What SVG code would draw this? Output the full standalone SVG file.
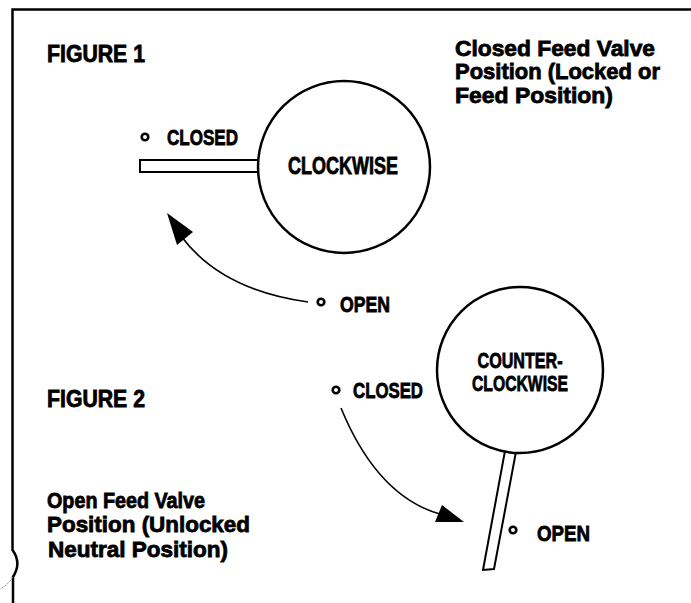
<svg xmlns="http://www.w3.org/2000/svg" width="691" height="603" viewBox="0 0 691 603">
<style>
text{font-family:"Liberation Sans",Arial,sans-serif;font-weight:bold;fill:#000;stroke:#000;stroke-width:0.8}
.t{font-size:23px}
.m{font-size:22px}
.s{font-size:22.5px}
.ring{fill:#fff;stroke:#000;stroke-width:2.5}
.bar{fill:#fff;stroke:#000;stroke-width:2}
.dot{fill:#fff;stroke:#000;stroke-width:2.6}
.curve{fill:none;stroke:#000;stroke-width:1.6}
.frame{fill:none;stroke:#000;stroke-width:2.5}
</style>
<rect width="691" height="603" fill="#fff"/>
<g id="frame">
<path class="frame" d="M691 9.5 H12.5 V550 Q22 563 13 577 V603"/>
<path d="M13 577 Q8 585 0 589" fill="none" stroke="#777" stroke-width="1" stroke-dasharray="2 1.5"/>
</g>
<g id="titles">
<text class="t" x="47" y="62" textLength="98" lengthAdjust="spacingAndGlyphs">FIGURE 1</text>
<text class="m" x="455" y="56" textLength="200" lengthAdjust="spacingAndGlyphs">Closed Feed Valve</text>
<text class="m" x="455" y="79" textLength="205" lengthAdjust="spacingAndGlyphs">Position (Locked or</text>
<text class="m" x="455" y="103" textLength="158" lengthAdjust="spacingAndGlyphs">Feed Position)</text>
<text class="t" x="47" y="407" textLength="98" lengthAdjust="spacingAndGlyphs">FIGURE 2</text>
<text class="m" x="47" y="508" textLength="158" lengthAdjust="spacingAndGlyphs">Open Feed Valve</text>
<text class="m" x="47" y="532" textLength="203" lengthAdjust="spacingAndGlyphs">Position (Unlocked</text>
<text class="m" x="48" y="557" textLength="180" lengthAdjust="spacingAndGlyphs">Neutral Position)</text>
</g>
<g id="valve1">
<rect class="bar" x="140" y="160" width="125" height="12"/>
<circle class="ring" cx="344" cy="167" r="86"/>
<text class="t" x="288" y="174" textLength="110" lengthAdjust="spacingAndGlyphs">CLOCKWISE</text>
</g>
<g id="closed1">
<circle class="dot" cx="145" cy="137" r="3.3"/>
<text class="s" x="167" y="145" textLength="71" lengthAdjust="spacingAndGlyphs">CLOSED</text>
</g>
<g id="open1">
<circle class="dot" cx="321" cy="302" r="3.3"/>
<text class="s" x="340" y="312" textLength="50" lengthAdjust="spacingAndGlyphs">OPEN</text>
</g>
<g id="valve2">
<polygon class="bar" points="507,440 518,441 494,569 483,570"/>
<circle class="ring" cx="520" cy="370" r="83"/>
<text class="m" x="520" y="368" text-anchor="middle" textLength="85" lengthAdjust="spacingAndGlyphs">COUNTER-</text>
<text class="m" x="520" y="391" text-anchor="middle" textLength="96" lengthAdjust="spacingAndGlyphs">CLOCKWISE</text>
</g>
<g id="closed2">
<circle class="dot" cx="336" cy="390" r="3.3"/>
<text class="s" x="353" y="398" textLength="70" lengthAdjust="spacingAndGlyphs">CLOSED</text>
</g>
<g id="open2">
<circle class="dot" cx="513" cy="530" r="3.3"/>
<text class="s" x="537" y="541" textLength="53" lengthAdjust="spacingAndGlyphs">OPEN</text>
</g>
<g id="connectors">
<path class="curve" d="M308 302 Q221 290 181 236"/>
<polygon points="167,213 193,232 177,245"/>
<path class="curve" d="M341 408 Q378 498 443 515"/>
<polygon points="464,522 435,522 442,505"/>
</g>
</svg>
